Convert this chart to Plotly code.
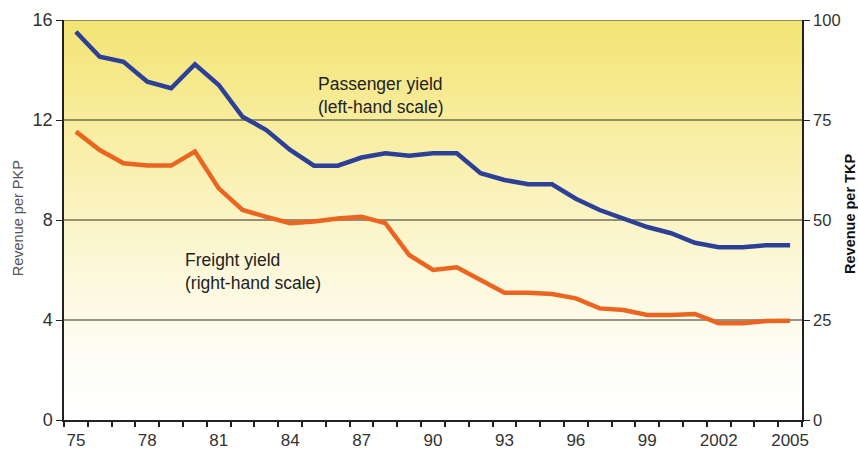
import plotly.graph_objects as go

years = list(range(1975, 2006))
passenger_yield = [15.53, 14.53, 14.33, 13.53, 13.27, 14.23, 13.4, 12.13, 11.6, 10.8,
                   10.17, 10.17, 10.5, 10.67, 10.57, 10.67, 10.67, 9.87, 9.6, 9.43,
                   9.43, 8.85, 8.4, 8.08, 7.72, 7.47, 7.09, 6.91, 6.91, 6.99, 6.99]
freight_yield = [72.1, 67.5, 64.2, 63.6, 63.6, 67.1, 57.9, 52.5, 50.8, 49.2,
                 49.6, 50.4, 50.8, 49.2, 41.25, 37.5, 38.2, 35.0, 31.8, 31.8,
                 31.5, 30.4, 27.9, 27.5, 26.25, 26.25, 26.5, 24.2, 24.2, 24.75, 24.8]
label_years = [1975, 1978, 1981, 1984, 1987, 1990, 1993, 1996, 1999, 2002, 2005]
label_text = ["75", "78", "81", "84", "87", "90", "93", "96", "99", "2002", "2005"]
left_ticks = [0, 4, 8, 12, 16]
right_ticks = [0, 25, 50, 75, 100]

x_lo, x_hi = years[0] - 0.5, years[-1] + 0.5
y_lo, y_hi = 0, 16

FONT = "Liberation Sans, Arial, sans-serif"
BLUE = "rgb(44,64,152)"
ORANGE = "rgb(235,100,32)"
GRID = "#2e2e26"

fig = go.Figure()

# background gradient
fig.add_trace(go.Scatter(
    x=[x_lo, x_hi, x_hi, x_lo, x_lo], y=[y_lo, y_lo, y_hi, y_hi, y_lo],
    mode="lines", line=dict(width=0), fill="toself",
    fillgradient=dict(type="vertical",
                      colorscale=[[0, "rgb(255,255,255)"], [0.15, "rgb(254,253,246)"],
                                  [0.4, "rgb(252,247,214)"], [0.7, "rgb(248,238,165)"],
                                  [1, "rgb(243,228,115)"]]),
    hoverinfo="skip", showlegend=False))

# horizontal gridlines (drawn above the gradient)
for v in left_ticks[1:-1]:
    fig.add_trace(go.Scatter(x=[x_lo, x_hi], y=[v, v], mode="lines",
                             line=dict(color=GRID, width=1), hoverinfo="skip",
                             showlegend=False))

fig.add_trace(go.Scatter(x=years, y=passenger_yield, mode="lines",
                         line=dict(color=BLUE, width=4.5), showlegend=False))
fig.add_trace(go.Scatter(x=years, y=freight_yield, mode="lines", yaxis="y2",
                         line=dict(color=ORANGE, width=4.5), showlegend=False))

fig.update_layout(
    width=858, height=457,
    margin=dict(l=64, r=56, t=20, b=37),
    paper_bgcolor="white", plot_bgcolor="white",
    font=dict(family=FONT, size=17, color="#333"),
    xaxis=dict(range=[x_lo, x_hi], tickvals=label_years, ticktext=label_text,
               ticks="", showgrid=False, zeroline=False, automargin=False,
               showline=True, linecolor="#222", linewidth=1.5, ticklabelstandoff=4,
               tickfont=dict(size=17, color="#333"),
               minor=dict(tick0=x_lo, dtick=1, ticks="outside", ticklen=5,
                          tickcolor="#222", tickwidth=1.5, showgrid=False)),
    yaxis=dict(range=[y_lo, y_hi], tickvals=left_ticks, ticks="outside", ticklen=6,
               tickcolor="#222", showline=True, linecolor="#222", linewidth=1.5,
               showgrid=False, zeroline=False, automargin=False,
               tickfont=dict(size=18, color="#333")),
    yaxis2=dict(range=[0, 100], tickvals=right_ticks, overlaying="y", side="right",
                ticks="outside", ticklen=6, tickcolor="#222", showline=True,
                linecolor="#222", linewidth=1.5, showgrid=False, zeroline=False,
                automargin=False, tickfont=dict(size=16.5, color="#333")),
    annotations=[
        dict(text="Revenue per PKP", xref="paper", yref="paper", x=-0.062, y=0.505,
             textangle=-90, showarrow=False, font=dict(size=14.5, color="#555"),
             xanchor="center", yanchor="middle"),
        dict(text="<b>Revenue per TKP</b>", xref="paper", yref="paper", x=1.065, y=0.515,
             textangle=-90, showarrow=False, font=dict(size=14.5, color="#111"),
             xanchor="center", yanchor="middle"),
        dict(text="Passenger yield<br>(left-hand scale)", xref="x", yref="y",
             x=1985.1, y=12.98, xanchor="left", yanchor="middle", align="left",
             showarrow=False, font=dict(size=17.5, color="#222")),
        dict(text="Freight yield<br>(right-hand scale)", xref="x", yref="y",
             x=1979.5, y=5.94, xanchor="left", yanchor="middle", align="left",
             showarrow=False, font=dict(size=17.5, color="#222")),
    ],
)
# top border line
fig.add_shape(type="line", xref="paper", yref="y", x0=0, x1=1, y0=y_hi, y1=y_hi,
              line=dict(color="#6b6b55", width=1.5))

fig.write_html("out.html", config={"displayModeBar": False},
               post_script="document.body.style.margin='0';document.body.style.overflow='hidden';")
